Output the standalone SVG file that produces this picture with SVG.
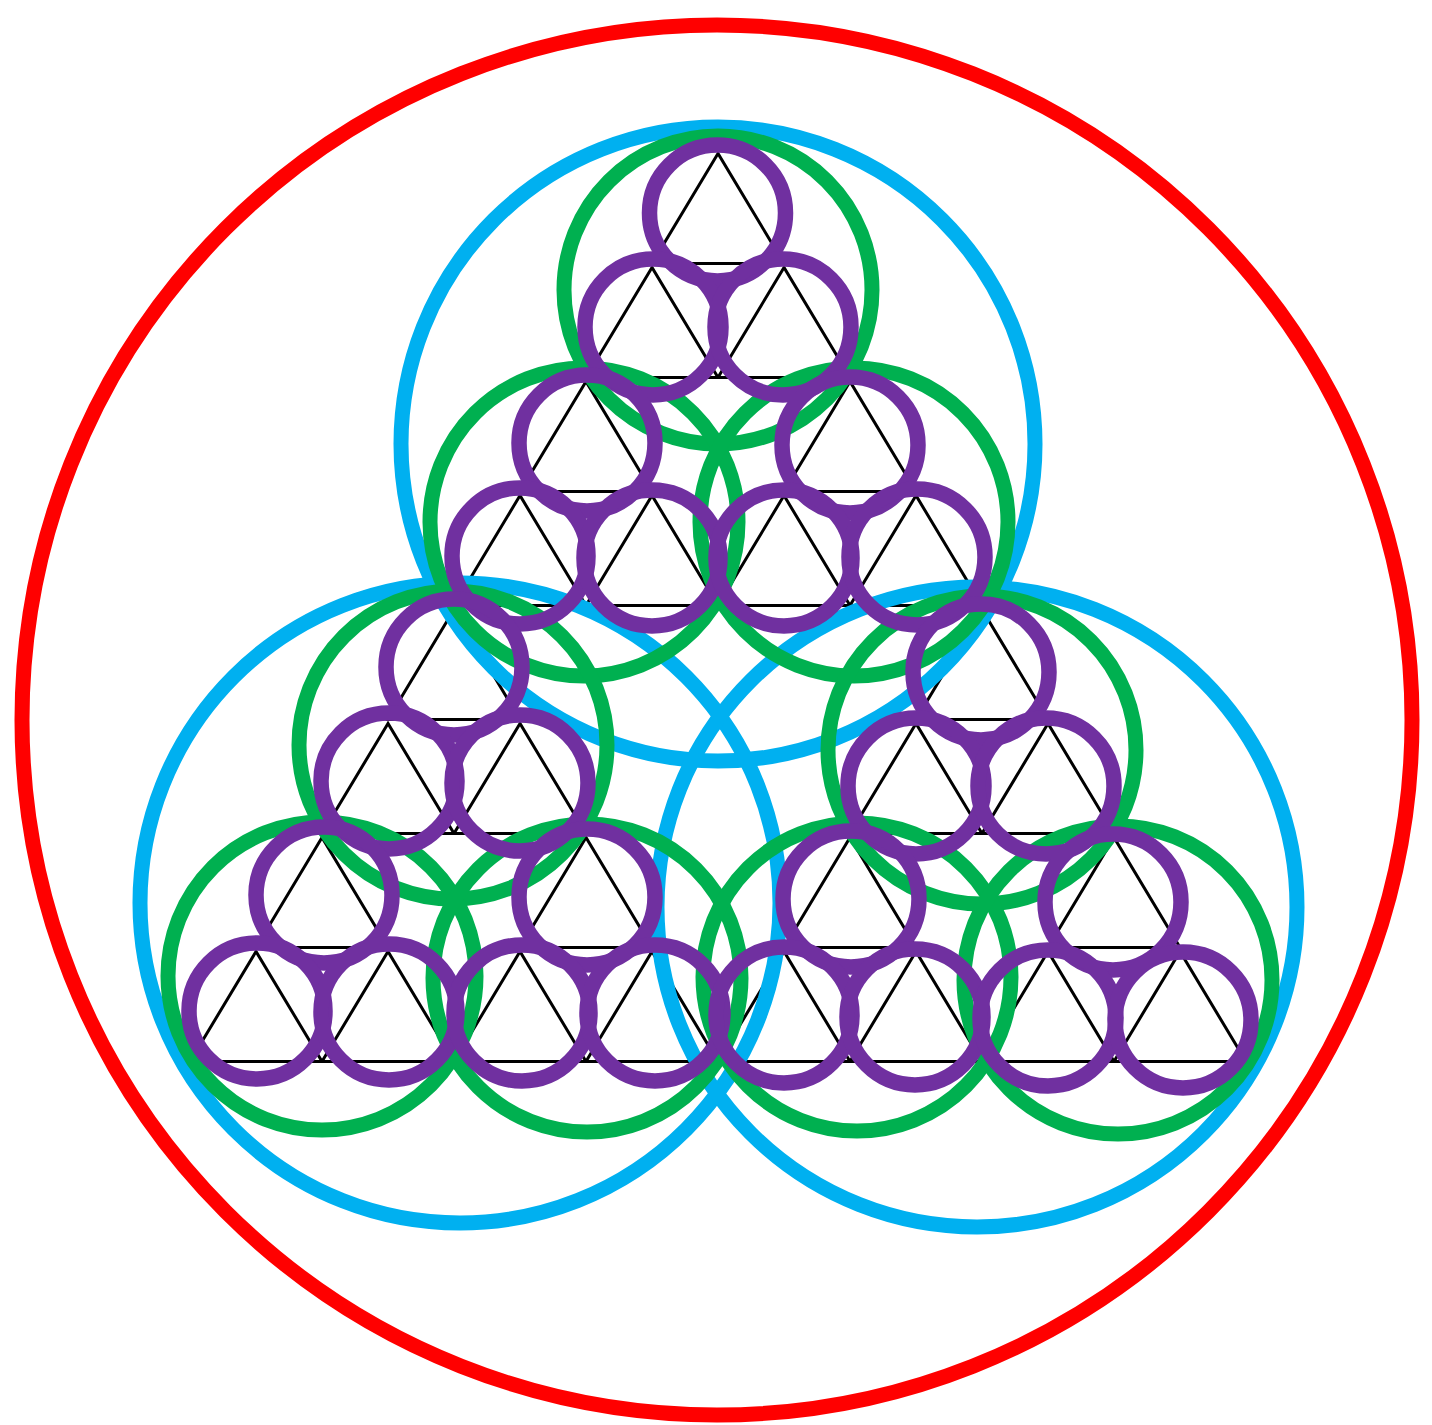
<svg xmlns="http://www.w3.org/2000/svg" width="1432" height="1425" viewBox="0 0 1432 1425">
<defs>
<style>
.tri{fill:none;stroke:#000;stroke-width:3;stroke-linejoin:miter}
.red{fill:none;stroke:#FF0000;stroke-width:15}
.blue{fill:none;stroke:#00B0F0;stroke-width:15}
.green{fill:none;stroke:#00B050;stroke-width:15}
.purple{fill:none;stroke:#7030A0;stroke-width:15.5}
</style>
<path id="t" d="M0,0 L-66,110 L66,110 Z"/>
</defs>
<rect width="1432" height="1425" fill="#fff"/>
<g id="triangles" class="tri">
<use href="#t" x="718" y="153.5"/>
<use href="#t" x="652" y="267.5"/><use href="#t" x="784" y="267.5"/>
<use href="#t" x="586" y="381.5"/><use href="#t" x="850" y="381.5"/>
<use href="#t" x="520" y="495.5"/><use href="#t" x="652" y="495.5"/><use href="#t" x="784" y="495.5"/><use href="#t" x="916" y="495.5"/>
<use href="#t" x="454" y="609.5"/><use href="#t" x="982" y="609.5"/>
<use href="#t" x="388" y="723.5"/><use href="#t" x="520" y="723.5"/><use href="#t" x="916" y="723.5"/><use href="#t" x="1048" y="723.5"/>
<use href="#t" x="322" y="837.5"/><use href="#t" x="586" y="837.5"/><use href="#t" x="850" y="837.5"/><use href="#t" x="1114" y="837.5"/>
<use href="#t" x="256" y="951.5"/><use href="#t" x="388" y="951.5"/><use href="#t" x="520" y="951.5"/><use href="#t" x="652" y="951.5"/><use href="#t" x="784" y="951.5"/><use href="#t" x="916" y="951.5"/><use href="#t" x="1048" y="951.5"/><use href="#t" x="1180" y="951.5"/>
</g>
<g id="outer-circle">
<circle class="red" cx="717" cy="720" r="695"/>
</g>
<g id="level1-circles" class="blue">
<circle cx="718" cy="444" r="317"/>
<circle cx="460" cy="903" r="320"/>
<circle cx="977" cy="907" r="320"/>
</g>
<g id="level2-circles" class="green">
<circle cx="718" cy="290" r="154"/>
<circle cx="584" cy="522" r="154"/>
<circle cx="854" cy="522" r="154"/>
<circle cx="453" cy="745" r="154"/>
<circle cx="322" cy="976" r="154"/>
<circle cx="587" cy="978" r="154"/>
<circle cx="982" cy="750" r="154"/>
<circle cx="857" cy="977" r="154"/>
<circle cx="1118" cy="980" r="154"/>
</g>
<g id="level3-circles" class="purple">
<circle cx="717.5" cy="213" r="68"/>
<circle cx="653" cy="327" r="68"/><circle cx="783" cy="327" r="68"/>
<circle cx="587" cy="443" r="68"/><circle cx="850" cy="445" r="68"/>
<circle cx="520" cy="556" r="68"/><circle cx="652" cy="558" r="68"/><circle cx="784" cy="558" r="68"/><circle cx="917" cy="557" r="68"/>
<circle cx="454" cy="667" r="68"/><circle cx="981" cy="672" r="68"/>
<circle cx="389" cy="781" r="68"/><circle cx="520" cy="783" r="68"/><circle cx="916" cy="786" r="68"/><circle cx="1046" cy="786" r="68"/>
<circle cx="324" cy="895" r="68"/><circle cx="587" cy="897" r="68"/><circle cx="851" cy="899" r="68"/><circle cx="1113" cy="902" r="68"/>
<circle cx="257" cy="1011" r="68"/><circle cx="389" cy="1012" r="68"/><circle cx="522" cy="1013" r="68"/><circle cx="655" cy="1013" r="68"/><circle cx="784" cy="1015" r="68"/><circle cx="915" cy="1017" r="68"/><circle cx="1048" cy="1018" r="68"/><circle cx="1183" cy="1020" r="68"/>
</g>
</svg>
